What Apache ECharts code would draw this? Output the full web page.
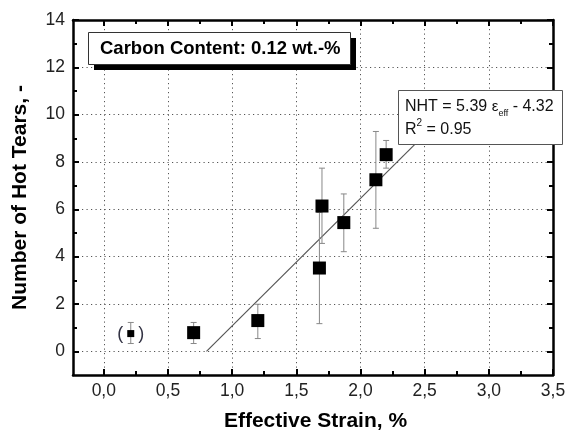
<!DOCTYPE html>
<html><head><meta charset="utf-8">
<script src="https://cdn.jsdelivr.net/npm/echarts@6/dist/echarts.min.js"></script>
<style>html,body{margin:0;padding:0;background:#fff}#c{width:565px;height:434px}</style>
</head><body><div id="c"></div>
<script>
// Measured data (effective strain %, number of hot tears, error bar limits)
const strain   = [0.70, 1.20, 1.68, 1.70, 1.87, 2.12, 2.20];
const hotTears = [0.79, 1.30, 3.52, 6.14, 5.44, 7.25, 8.31];
const errLow   = [0.33, 0.54, 1.17, 4.56, 4.21, 5.20, 7.74];
const errHigh  = [1.22, 1.99, 5.87, 7.74, 6.65, 9.29, 8.91];
// excluded point (shown in parentheses)
const exStrain = [0.21];
const exTears  = [0.75];
const exLow    = [0.33];
const exHigh   = [1.22];
// regression line endpoints: NHT = 5.39 eps - 4.32
const fitX = [0.80, 2.50];
const fitY = [0.00, 9.155];
// ticks
const xTicks = [0, 0.5, 1, 1.5, 2, 2.5, 3, 3.5];
const xMinor = [0.25, 0.75, 1.25, 1.75, 2.25, 2.75, 3.25];
const yTicks = [0, 2, 4, 6, 8, 10, 12, 14];
const yMinor = [1, 3, 5, 7, 9, 11, 13];

const FONT = '"Liberation Sans", Arial, sans-serif';
const chart = echarts.init(document.getElementById('c'), null, {renderer: 'canvas'});

const mainPts = strain.map((x, i) => [x, hotTears[i]]);
const exPts = exStrain.map((x, i) => [x, exTears[i]]);
const errData = strain.map((x, i) => [x, errLow[i], errHigh[i]]).concat(exStrain.map((x, i) => [x, exLow[i], exHigh[i]]));
const fitData = fitX.map((x, i) => [x, fitY[i]]);

const XMIN = -0.24, XMAX = 3.5, YMIN = -1, YMAX = 14;
const axLine = {show: true, onZero: false, lineStyle: {color: '#000', width: 2.5}};
const noLine = {show: false, onZero: false};

function xAx(pos, ticks, len, main) {
  return {
    type: 'value', position: pos, min: XMIN, max: XMAX,
    axisLine: main ? axLine : noLine,
    axisTick: {show: true, inside: true, length: len, customValues: ticks, lineStyle: {color: '#000', width: 2}},
    axisLabel: (main && pos === 'bottom') ? {show: true, customValues: xTicks, fontSize: 17.5, color: '#222', fontFamily: FONT, margin: 7,
      formatter: v => v.toFixed(1).replace('.', ',')} : {show: false},
    splitLine: (main && pos === 'bottom') ? {show: true, lineStyle: {color: '#555', width: 1, type: [1.2, 3.3]}} : {show: false},
    name: (main && pos === 'bottom') ? 'Effective Strain, %' : '',
    nameLocation: 'middle', nameGap: 36,
    nameTextStyle: {fontSize: 21, fontWeight: 'bold', color: '#000', fontFamily: FONT, padding: [0, 0, 0, 5]}
  };
}
function yAx(pos, ticks, len, main) {
  return {
    type: 'value', position: pos, min: YMIN, max: YMAX,
    axisLine: main ? axLine : noLine,
    axisTick: {show: true, inside: true, length: len, customValues: ticks, lineStyle: {color: '#000', width: 2}},
    axisLabel: (main && pos === 'left') ? {show: true, customValues: yTicks, fontSize: 17.5, color: '#222', fontFamily: FONT, margin: 8} : {show: false},
    splitLine: (main && pos === 'left') ? {show: true, lineStyle: {color: '#555', width: 1, type: [1.2, 3.3]}} : {show: false},
    name: (main && pos === 'left') ? 'Number of Hot Tears, -' : '',
    nameLocation: 'middle', nameGap: 42,
    nameTextStyle: {fontSize: 21, fontWeight: 'bold', color: '#000', fontFamily: FONT}
  };
}

const option = {
  animation: false,
  backgroundColor: '#fff',
  grid: {left: 73, right: 12, top: 20, bottom: 59, containLabel: false, outerBoundsMode: 'none'},
  xAxis: [xAx('bottom', xTicks, 6, true), xAx('bottom', xMinor, 4, false), xAx('top', xTicks, 6, true), xAx('top', xMinor, 4, false)],
  yAxis: [yAx('left', yTicks, 6, true), yAx('left', yMinor, 4, false), yAx('right', yTicks, 6, true), yAx('right', yMinor, 4, false)],
  series: [
    {
      type: 'line', data: fitData, showSymbol: false, symbol: 'none', z: 2,
      lineStyle: {color: '#555', width: 1.2}
    },
    {
      type: 'custom', data: errData, z: 3,
      renderItem: function (params, api) {
        const x = api.value(0);
        const lo = api.coord([x, api.value(1)]);
        const hi = api.coord([x, api.value(2)]);
        const w = 3;
        const st = {stroke: '#888', lineWidth: 1};
        return {type: 'group', children: [
          {type: 'line', shape: {x1: lo[0], y1: lo[1], x2: hi[0], y2: hi[1]}, style: st},
          {type: 'line', shape: {x1: lo[0] - w, y1: lo[1], x2: lo[0] + w, y2: lo[1]}, style: st},
          {type: 'line', shape: {x1: hi[0] - w, y1: hi[1], x2: hi[0] + w, y2: hi[1]}, style: st}
        ]};
      }
    },
    {
      type: 'scatter', data: mainPts, symbol: 'rect', symbolSize: 13, z: 4,
      itemStyle: {color: '#000', opacity: 1}
    },
    {
      type: 'scatter', data: exPts, symbol: 'rect', symbolSize: 7, z: 4,
      itemStyle: {color: '#000', opacity: 1},
      label: {show: true, position: 'inside', formatter: '(   )', fontSize: 18, color: '#334', fontFamily: FONT}
    }
  ],
  graphic: [
    {type: 'rect', z: 100, shape: {x: 94, y: 38, width: 262, height: 32}, style: {fill: '#000'}},
    {type: 'rect', z: 101, shape: {x: 88.5, y: 32.5, width: 262, height: 32}, style: {fill: '#fff', stroke: '#333', lineWidth: 1}},
    {type: 'text', z: 102, x: 100, y: 48.5, style: {text: 'Carbon Content: 0.12 wt.-%', font: 'bold 18.5px ' + FONT, fill: '#000', verticalAlign: 'middle'}},
    {type: 'rect', z: 100, shape: {x: 398.5, y: 90.5, width: 164, height: 54}, style: {fill: '#fff', stroke: '#555', lineWidth: 1}},
    {type: 'text', z: 102, x: 405, y: 95, style: {
      text: 'NHT = 5.39 {e|ε}{sub|eff} - 4.32\nR{sup|2} = 0.95',
      font: '16px ' + FONT, fill: '#111', lineHeight: 23,
      rich: {
        e: {fontSize: 15, fontFamily: FONT, fill: '#111'},
        sub: {fontSize: 9, fontFamily: FONT, fill: '#111', verticalAlign: 'bottom', lineHeight: 9},
        sup: {fontSize: 10, fontFamily: FONT, fill: '#111', verticalAlign: 'top', lineHeight: 10}
      }
    }}
  ]
};
chart.setOption(option);
</script>
</body></html>
